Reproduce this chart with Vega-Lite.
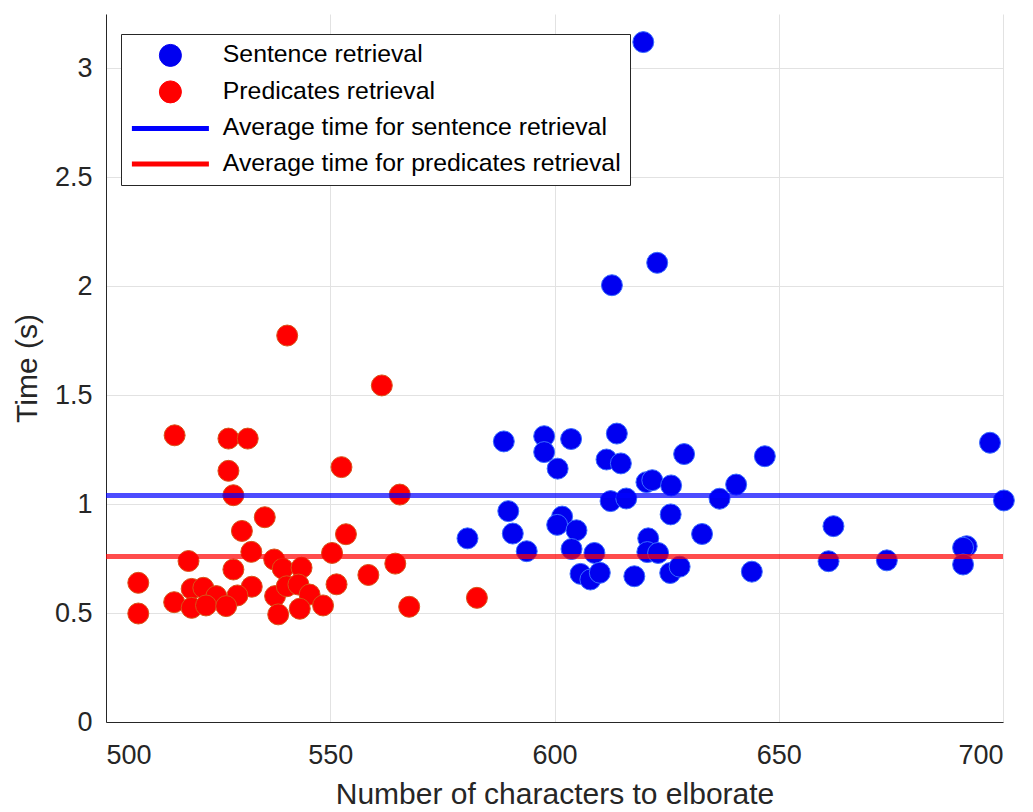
{
  "$schema": "https://vega.github.io/schema/vega-lite/v6.json",
  "width": 897,
  "height": 708,
  "autosize": {"type": "none"},
  "padding": {"left": 106, "top": 14, "right": 30, "bottom": 90},
  "background": "white",
  "config": {
    "view": {"stroke": null},
    "font": "Liberation Sans",
    "axis": {
      "domainColor": "#262626",
      "domainWidth": 1,
      "ticks": false,
      "gridColor": "#e2e2e2",
      "gridWidth": 1,
      "labelColor": "#262626",
      "labelFont": "Liberation Sans",
      "labelFontSize": 27,
      "titleColor": "#262626",
      "titleFont": "Liberation Sans",
      "titleFontSize": 30,
      "titleFontWeight": "normal"
    }
  },
  "datasets": {
    "pts": [
      {"series": "Sentence retrieval", "chars": 619.8, "time": 3.121},
      {"series": "Sentence retrieval", "chars": 622.9, "time": 2.108},
      {"series": "Sentence retrieval", "chars": 612.8, "time": 2.005},
      {"series": "Sentence retrieval", "chars": 588.7, "time": 1.288},
      {"series": "Sentence retrieval", "chars": 597.7, "time": 1.312},
      {"series": "Sentence retrieval", "chars": 603.7, "time": 1.299},
      {"series": "Sentence retrieval", "chars": 613.9, "time": 1.324},
      {"series": "Sentence retrieval", "chars": 597.7, "time": 1.239},
      {"series": "Sentence retrieval", "chars": 600.7, "time": 1.163},
      {"series": "Sentence retrieval", "chars": 611.6, "time": 1.205},
      {"series": "Sentence retrieval", "chars": 614.8, "time": 1.187},
      {"series": "Sentence retrieval", "chars": 628.9, "time": 1.23},
      {"series": "Sentence retrieval", "chars": 620.5, "time": 1.101},
      {"series": "Sentence retrieval", "chars": 621.8, "time": 1.11},
      {"series": "Sentence retrieval", "chars": 626.0, "time": 1.086},
      {"series": "Sentence retrieval", "chars": 640.5, "time": 1.09},
      {"series": "Sentence retrieval", "chars": 612.5, "time": 1.014},
      {"series": "Sentence retrieval", "chars": 616.0, "time": 1.026},
      {"series": "Sentence retrieval", "chars": 636.8, "time": 1.025},
      {"series": "Sentence retrieval", "chars": 589.7, "time": 0.968},
      {"series": "Sentence retrieval", "chars": 625.9, "time": 0.953},
      {"series": "Sentence retrieval", "chars": 601.7, "time": 0.943},
      {"series": "Sentence retrieval", "chars": 600.6, "time": 0.905},
      {"series": "Sentence retrieval", "chars": 604.9, "time": 0.88},
      {"series": "Sentence retrieval", "chars": 590.7, "time": 0.865},
      {"series": "Sentence retrieval", "chars": 580.6, "time": 0.843},
      {"series": "Sentence retrieval", "chars": 632.9, "time": 0.863},
      {"series": "Sentence retrieval", "chars": 620.9, "time": 0.843},
      {"series": "Sentence retrieval", "chars": 603.8, "time": 0.794},
      {"series": "Sentence retrieval", "chars": 593.8, "time": 0.784},
      {"series": "Sentence retrieval", "chars": 608.9, "time": 0.776},
      {"series": "Sentence retrieval", "chars": 620.7, "time": 0.78},
      {"series": "Sentence retrieval", "chars": 623.1, "time": 0.776},
      {"series": "Sentence retrieval", "chars": 605.8, "time": 0.68},
      {"series": "Sentence retrieval", "chars": 608.0, "time": 0.654},
      {"series": "Sentence retrieval", "chars": 610.1, "time": 0.685},
      {"series": "Sentence retrieval", "chars": 617.8, "time": 0.669},
      {"series": "Sentence retrieval", "chars": 625.8, "time": 0.684},
      {"series": "Sentence retrieval", "chars": 627.9, "time": 0.713},
      {"series": "Sentence retrieval", "chars": 646.9, "time": 1.22},
      {"series": "Sentence retrieval", "chars": 697.1, "time": 1.282},
      {"series": "Sentence retrieval", "chars": 700.2, "time": 1.017},
      {"series": "Sentence retrieval", "chars": 662.2, "time": 0.899},
      {"series": "Sentence retrieval", "chars": 661.1, "time": 0.738},
      {"series": "Sentence retrieval", "chars": 674.1, "time": 0.742},
      {"series": "Sentence retrieval", "chars": 691.9, "time": 0.807},
      {"series": "Sentence retrieval", "chars": 691.1, "time": 0.8},
      {"series": "Sentence retrieval", "chars": 691.1, "time": 0.723},
      {"series": "Sentence retrieval", "chars": 644.0, "time": 0.69},
      {"series": "Predicates retrieval", "chars": 540.4, "time": 1.774},
      {"series": "Predicates retrieval", "chars": 561.5, "time": 1.545},
      {"series": "Predicates retrieval", "chars": 515.3, "time": 1.316},
      {"series": "Predicates retrieval", "chars": 527.3, "time": 1.301},
      {"series": "Predicates retrieval", "chars": 531.6, "time": 1.301},
      {"series": "Predicates retrieval", "chars": 527.3, "time": 1.153},
      {"series": "Predicates retrieval", "chars": 552.5, "time": 1.17},
      {"series": "Predicates retrieval", "chars": 528.4, "time": 1.041},
      {"series": "Predicates retrieval", "chars": 565.5, "time": 1.044},
      {"series": "Predicates retrieval", "chars": 535.4, "time": 0.94},
      {"series": "Predicates retrieval", "chars": 530.3, "time": 0.877},
      {"series": "Predicates retrieval", "chars": 553.5, "time": 0.862},
      {"series": "Predicates retrieval", "chars": 532.4, "time": 0.781},
      {"series": "Predicates retrieval", "chars": 518.4, "time": 0.739},
      {"series": "Predicates retrieval", "chars": 528.4, "time": 0.7},
      {"series": "Predicates retrieval", "chars": 537.5, "time": 0.746},
      {"series": "Predicates retrieval", "chars": 539.4, "time": 0.704},
      {"series": "Predicates retrieval", "chars": 543.6, "time": 0.708},
      {"series": "Predicates retrieval", "chars": 550.4, "time": 0.776},
      {"series": "Predicates retrieval", "chars": 564.5, "time": 0.727},
      {"series": "Predicates retrieval", "chars": 558.5, "time": 0.675},
      {"series": "Predicates retrieval", "chars": 507.2, "time": 0.639},
      {"series": "Predicates retrieval", "chars": 551.4, "time": 0.632},
      {"series": "Predicates retrieval", "chars": 532.5, "time": 0.621},
      {"series": "Predicates retrieval", "chars": 519.1, "time": 0.611},
      {"series": "Predicates retrieval", "chars": 521.7, "time": 0.616},
      {"series": "Predicates retrieval", "chars": 524.6, "time": 0.578},
      {"series": "Predicates retrieval", "chars": 529.3, "time": 0.581},
      {"series": "Predicates retrieval", "chars": 515.2, "time": 0.55},
      {"series": "Predicates retrieval", "chars": 519.1, "time": 0.524},
      {"series": "Predicates retrieval", "chars": 522.3, "time": 0.535},
      {"series": "Predicates retrieval", "chars": 526.8, "time": 0.532},
      {"series": "Predicates retrieval", "chars": 537.7, "time": 0.578},
      {"series": "Predicates retrieval", "chars": 540.3, "time": 0.623},
      {"series": "Predicates retrieval", "chars": 542.9, "time": 0.631},
      {"series": "Predicates retrieval", "chars": 545.4, "time": 0.585},
      {"series": "Predicates retrieval", "chars": 548.4, "time": 0.535},
      {"series": "Predicates retrieval", "chars": 543.2, "time": 0.52},
      {"series": "Predicates retrieval", "chars": 538.4, "time": 0.494},
      {"series": "Predicates retrieval", "chars": 507.2, "time": 0.498},
      {"series": "Predicates retrieval", "chars": 567.6, "time": 0.529},
      {"series": "Predicates retrieval", "chars": 582.7, "time": 0.57}
    ],
    "avg": [
      {"series": "Average time for sentence retrieval", "time": 1.04},
      {"series": "Average time for predicates retrieval", "time": 0.76}
    ]
  },
  "layer": [
    {
      "data": {"name": "pts"},
      "mark": {"type": "point", "filled": true, "size": 440, "strokeWidth": 1, "opacity": 1},
      "encoding": {
        "x": {
          "field": "chars", "type": "quantitative",
          "scale": {"domain": [500, 700], "nice": false, "zero": false},
          "axis": {"values": [500, 550, 600, 650, 700], "title": "Number of characters to elborate", "labelPadding": 20, "titlePadding": 11, "grid": true}
        },
        "y": {
          "field": "time", "type": "quantitative",
          "scale": {"domain": [0, 3.25], "nice": false},
          "axis": {"values": [0, 0.5, 1, 1.5, 2, 2.5, 3], "format": "~g", "title": "Time (s)", "labelPadding": 14, "titlePadding": 12, "grid": true}
        },
        "color": {
          "field": "series", "type": "nominal",
          "scale": {
            "domain": ["Sentence retrieval", "Predicates retrieval", "Average time for sentence retrieval", "Average time for predicates retrieval"],
            "range": ["#0000f0", "#ff0000", "#0000ff", "#ff0000"]
          },
          "legend": {
            "title": null,
            "orient": "none",
            "legendX": 15,
            "legendY": 20,
            "direction": "vertical",
            "padding": 9,
            "strokeColor": "#262626",
            "fillColor": "white",
            "cornerRadius": 0,
            "labelFont": "Liberation Sans",
            "labelFontSize": 24.8,
            "labelColor": "#000000",
            "labelLimit": 600,
            "labelOffset": 40,
            "symbolOffset": 28,
            "symbolSize": 484,
            "rowPadding": 9.5,
            "symbolOpacity": 1,
            "encode": {
              "symbols": {
                "update": {
                  "shape": {"signal": "datum.index >= 2 ? 'M-3.5,0L3.5,0' : 'circle'"},
                  "strokeWidth": {"signal": "datum.index >= 2 ? 5 : 1"},
                  "stroke": {"signal": "datum.index == 0 ? '#3a6cff' : (datum.index == 1 ? '#d95319' : (datum.index == 2 ? '#5050ff' : '#ff5050'))"}
                }
              }
            }
          }
        },
        "stroke": {
          "field": "series", "type": "nominal",
          "scale": {"domain": ["Sentence retrieval", "Predicates retrieval"], "range": ["#3a6cff", "#d95319"]},
          "legend": null
        }
      }
    },
    {
      "data": {"name": "avg"},
      "mark": {"type": "rule", "strokeWidth": 5, "opacity": 0.7},
      "encoding": {
        "y": {"field": "time", "type": "quantitative"},
        "color": {"field": "series", "type": "nominal"}
      }
    }
  ]
}
